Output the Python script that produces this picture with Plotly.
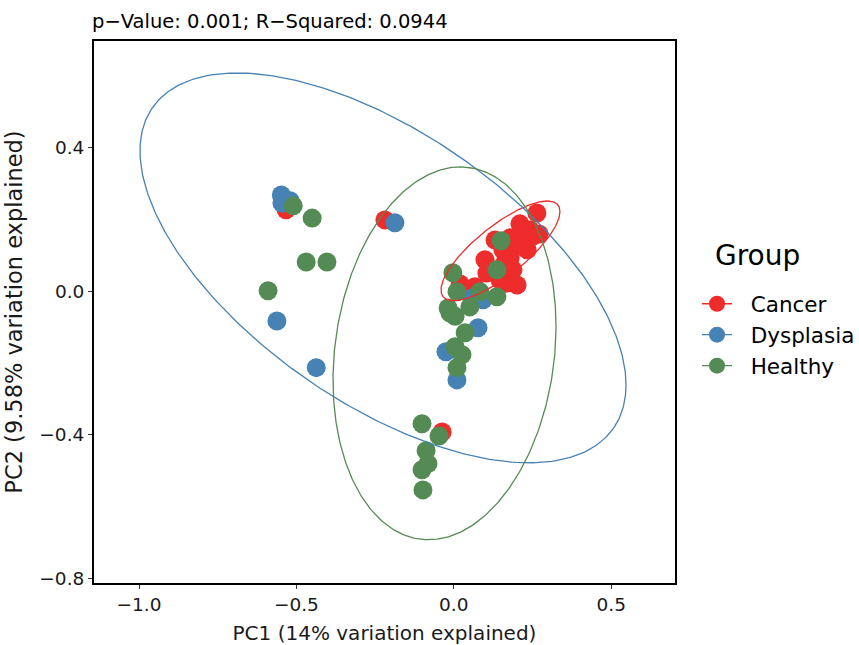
import numpy as np
import plotly.graph_objects as go

# ---------------- data ----------------
groups = ["Cancer", "Dysplasia", "Healthy"]

cancer_pc1 = [-0.533, -0.219, -0.037, 0.264, 0.210, 0.242, 0.252, 0.131, 0.220, 0.198,
              0.233, 0.099, 0.179, 0.188, 0.147, 0.201, 0.067, 0.020, 0.134, 0.271,
              0.163, 0.105, 0.166, 0.179, 0.156]
cancer_pc2 = [0.226, 0.198, -0.392, 0.217, 0.187, 0.170, 0.153, 0.142, 0.142, 0.123,
              0.115, 0.087, 0.092, 0.059, 0.031, 0.017, 0.012, 0.020, 0.059, 0.159,
              0.081, 0.050, 0.022, 0.148, 0.115]

dysplasia_pc1 = [-0.548, -0.546, -0.520, -0.187, -0.562, -0.437, 0.093, 0.058, 0.077, -0.025, 0.010]
dysplasia_pc2 = [0.267, 0.245, 0.251, 0.190, -0.083, -0.213, -0.024, -0.019, -0.102, -0.169, -0.247]

healthy_pc1 = [-0.510, -0.450, -0.469, -0.403, -0.590, -0.101, -0.047, -0.088, -0.082, -0.101,
               -0.098, -0.003, 0.010, 0.083, 0.137, 0.051, -0.012, 0.004, 0.036, 0.004,
               0.026, 0.010, 0.150, 0.137, -0.018]
healthy_pc2 = [0.237, 0.203, 0.081, 0.081, 0.001, -0.369, -0.403, -0.444, -0.480, -0.497,
               -0.553, 0.051, -0.002, -0.002, -0.016, -0.044, -0.061, -0.070, -0.116, -0.155,
               -0.177, -0.213, 0.140, 0.059, -0.047]

# 95% ellipse parameters per group: centre and shape matrix (sxx, syy, sxy)
ell_cx = [0.1483, -0.2249, -0.0295]
ell_cy = [0.1120, 0.0645, -0.1732]
ell_sxx = [0.0357, 0.5959, 0.12546]
ell_syy = [0.0192, 0.2939, 0.2688]
ell_sxy = [0.0206, -0.2511, 0.02635]

xtick_vals = [-1.0, -0.5, 0.0, 0.5]
xtick_text = ["\u22121.0", "\u22120.5", "0.0", "0.5"]
ytick_vals = [0.4, 0.0, -0.4, -0.8]
ytick_text = ["0.4", "0.0", "\u22120.4", "\u22120.8"]

title_text = "p\u2212Value: 0.001; R\u2212Squared: 0.0944"
x_title = "PC1 (14% variation explained)"
y_title = "PC2 (9.58% variation explained)"
legend_title = "Group"

colors = ["#EE2C2C", "#4682B4", "#548B54"]
FONT = "DejaVu Sans, sans-serif"
PAD = "\u00a0\u00a0"  # spacing between legend glyph and label

xs = [cancer_pc1, dysplasia_pc1, healthy_pc1]
ys = [cancer_pc2, dysplasia_pc2, healthy_pc2]

fig = go.Figure()

for g, x, y, c in zip(groups, xs, ys, colors):
    fig.add_trace(go.Scatter(
        x=x, y=y, mode="markers", name=g, legendgroup=g, showlegend=False,
        marker=dict(size=19, color=c, line=dict(width=0)),
    ))

t = np.linspace(0, 2 * np.pi, 361)
for i, (g, c) in enumerate(zip(groups, colors)):
    M = np.array([[ell_sxx[i], ell_sxy[i]], [ell_sxy[i], ell_syy[i]]])
    L = np.linalg.cholesky(M)
    pts = L @ np.vstack([np.cos(t), np.sin(t)])
    fig.add_trace(go.Scatter(
        x=ell_cx[i] + pts[0], y=ell_cy[i] + pts[1], mode="lines",
        line=dict(color=c, width=1.3), legendgroup=g, showlegend=False,
        hoverinfo="skip",
    ))

# legend entries (point + line glyph)
for g, c in zip(groups, colors):
    fig.add_trace(go.Scatter(
        x=[None], y=[None], mode="lines+markers", name=PAD + g, legendgroup=g,
        marker=dict(size=17, color=c), line=dict(color=c, width=1.3),
    ))

axis_common = dict(
    showgrid=False, zeroline=False, showline=True, linecolor="black", linewidth=2,
    mirror=True, ticks="outside", ticklen=4, tickwidth=1, tickcolor="#333333",
    tickfont=dict(family=FONT, size=18.5, color="#1a1a1a"), automargin=False,
)

fig.update_xaxes(range=[-1.143, 0.7027], tickvals=xtick_vals, ticktext=xtick_text,
                 title=dict(text=x_title, standoff=13,
                            font=dict(family=FONT, size=20, color="#1a1a1a")),
                 **axis_common)
fig.update_yaxes(range=[-0.812, 0.6956], tickvals=ytick_vals, ticktext=ytick_text,
                 title=dict(text=y_title, standoff=10,
                            font=dict(family=FONT, size=22.5, color="#1a1a1a")),
                 **axis_common)

fig.add_annotation(text=title_text, xref="paper", yref="paper", x=0, y=1,
                   xanchor="left", yanchor="bottom", yshift=6, xshift=-4, showarrow=False,
                   font=dict(family=FONT, size=19.5, color="black"))

fig.add_annotation(text=legend_title, xref="paper", yref="paper", x=1.0654, y=0.605,
                   xanchor="left", yanchor="middle", showarrow=False,
                   font=dict(family=FONT, size=28, color="black"))

fig.update_layout(
    width=859, height=645,
    margin=dict(l=94, r=184, t=41, b=62, autoexpand=False),
    paper_bgcolor="white", plot_bgcolor="white",
    font=dict(family=FONT, color="black"),
    legend=dict(
        x=1.0379, y=0.553, xanchor="left", yanchor="top",
        font=dict(family=FONT, size=21.5, color="black"),
        itemsizing="trace", tracegroupgap=0,
    ),
)

fig.write_html("out.html")
